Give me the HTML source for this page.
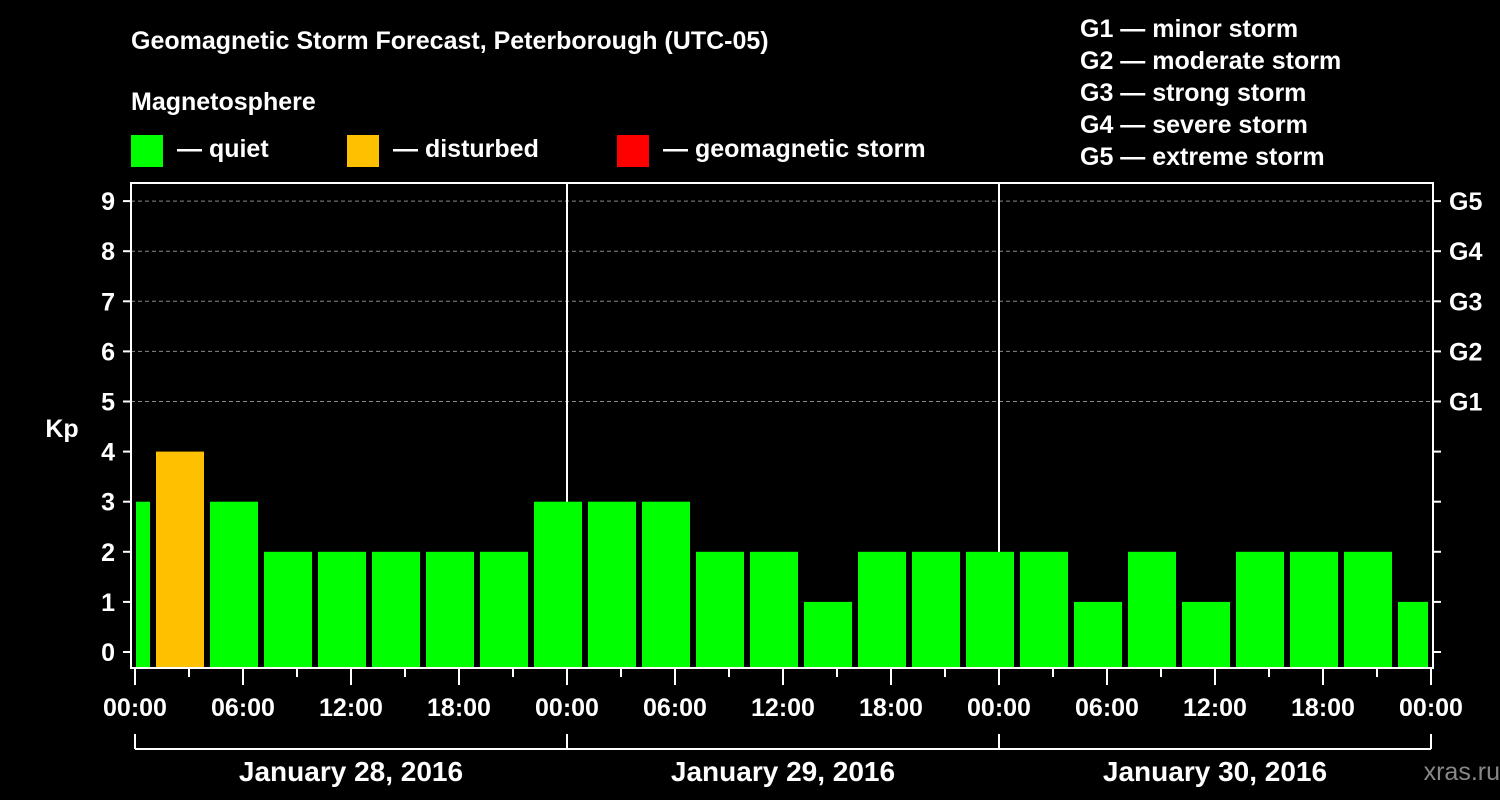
<!DOCTYPE html>
<html><head><meta charset="utf-8"><style>
html,body{margin:0;padding:0;background:#000;}
svg{display:block;font-family:"Liberation Sans",Arial,sans-serif;font-weight:bold;}
</style></head><body>
<svg id="chart" width="1500" height="800" viewBox="0 0 1500 800">
<rect width="1500" height="800" fill="#000"/>
<text x="131" y="49" fill="#fff" font-size="25">Geomagnetic Storm Forecast, Peterborough (UTC-05)</text>
<text x="131" y="110" fill="#fff" font-size="25">Magnetosphere</text>
<g><rect x="131" y="135" width="32" height="32" fill="#00ff00"/><text x="177" y="157" fill="#fff" font-size="25">— quiet</text></g>
<g><rect x="347" y="135" width="32" height="32" fill="#ffc000"/><text x="393" y="157" fill="#fff" font-size="25">— disturbed</text></g>
<g><rect x="617" y="135" width="32" height="32" fill="#ff0000"/><text x="663" y="157" fill="#fff" font-size="25">— geomagnetic storm</text></g>
<g fill="#fff" font-size="25">
<text x="1080" y="37">G1 — minor storm</text>
<text x="1080" y="69">G2 — moderate storm</text>
<text x="1080" y="101">G3 — strong storm</text>
<text x="1080" y="133">G4 — severe storm</text>
<text x="1080" y="165">G5 — extreme storm</text>
</g>
<text x="62" y="437" fill="#fff" font-size="25" text-anchor="middle">Kp</text>
<text x="1500" y="780" fill="#888" font-size="25" text-anchor="end" font-weight="normal">xras.ru</text>
<g id="grid"></g><g id="bars"></g><g id="axes"></g>
</svg>
<script>
const kpValues=[3,4,3,2,2,2,2,2,3,3,3,2,2,1,2,2,2,2,1,2,1,2,2,2,1];
const barStartHour=-2;
const yTicks=[0,1,2,3,4,5,6,7,8,9];
const gLabels=["","","","","","G1","G2","G3","G4","G5"];
const xTickLabels=["00:00","06:00","12:00","18:00","00:00","06:00","12:00","18:00","00:00","06:00","12:00","18:00","00:00"];
const dayLabels=["January 28, 2016","January 29, 2016","January 30, 2016"];
const NS="http://www.w3.org/2000/svg";
const X0=135,PXH=18,TOTAL=72,Y0=652,PXK=50.1;
const L=131,R=1433,T=183,B=668;
const xs=h=>X0+h*PXH, ys=k=>Y0-k*PXK;
function mk(tag,attrs,parent,text){const e=document.createElementNS(NS,tag);for(const k in attrs)e.setAttribute(k,attrs[k]);if(text!==undefined)e.textContent=text;document.getElementById(parent).appendChild(e);return e;}
yTicks.forEach(k=>{if(k>=5){const g=mk('line',{x1:L,x2:R,y1:ys(k),y2:ys(k),stroke:'#888','stroke-dasharray':'4,3','stroke-width':1},'grid');

}});
[24,48].forEach(h=>{const d=mk('line',{x1:xs(h),x2:xs(h),y1:T,y2:B,stroke:'#fff','stroke-width':2},'grid');

});
kpValues.forEach((v,i)=>{let s=barStartHour+i*3,e=s+3;let x1=Math.max(xs(s)+3,xs(0)+1),x2=Math.min(xs(e)-3,xs(TOTAL)-3);
const c=v>=5?'#ff0000':(v>=4?'#ffc000':'#00ff00');
const r=mk('rect',{x:x1,y:ys(v),width:x2-x1,height:B-ys(v),fill:c},'bars');

});
const f=mk('rect',{x:L,y:T,width:R-L,height:B-T,fill:'none',stroke:'#fff','stroke-width':2},'axes');


yTicks.forEach(k=>{const y=ys(k);
mk('line',{x1:L-8,x2:L,y1:y,y2:y,stroke:'#fff','stroke-width':2},'axes');
mk('line',{x1:R,x2:R+8,y1:y,y2:y,stroke:'#fff','stroke-width':2},'axes');
const t=mk('text',{x:L-16,y:y+9,fill:'#fff','font-size':25,'text-anchor':'end'},'axes',String(k));


if(gLabels[k]){const g=mk('text',{x:1449,y:y+9,fill:'#fff','font-size':25},'axes',gLabels[k]);

}});
for(let h=0;h<=TOTAL;h+=3){const x=xs(h);mk('line',{x1:x,x2:x,y1:B,y2:h%6===0?685:677,stroke:'#fff','stroke-width':2},'axes');}
xTickLabels.forEach((s,i)=>{const t=mk('text',{x:xs(i*6),y:716,fill:'#fff','font-size':25,'text-anchor':'middle'},'axes',s);

});
mk('line',{x1:xs(0),x2:xs(TOTAL),y1:749,y2:749,stroke:'#fff','stroke-width':2},'axes');
[0,24,48,72].forEach(h=>mk('line',{x1:xs(h),x2:xs(h),y1:734,y2:749,stroke:'#fff','stroke-width':2},'axes'));
dayLabels.forEach((s,i)=>{const t=mk('text',{x:xs(i*24+12),y:781,fill:'#fff','font-size':28,'text-anchor':'middle'},'axes',s);

});
</script>
</body></html>
